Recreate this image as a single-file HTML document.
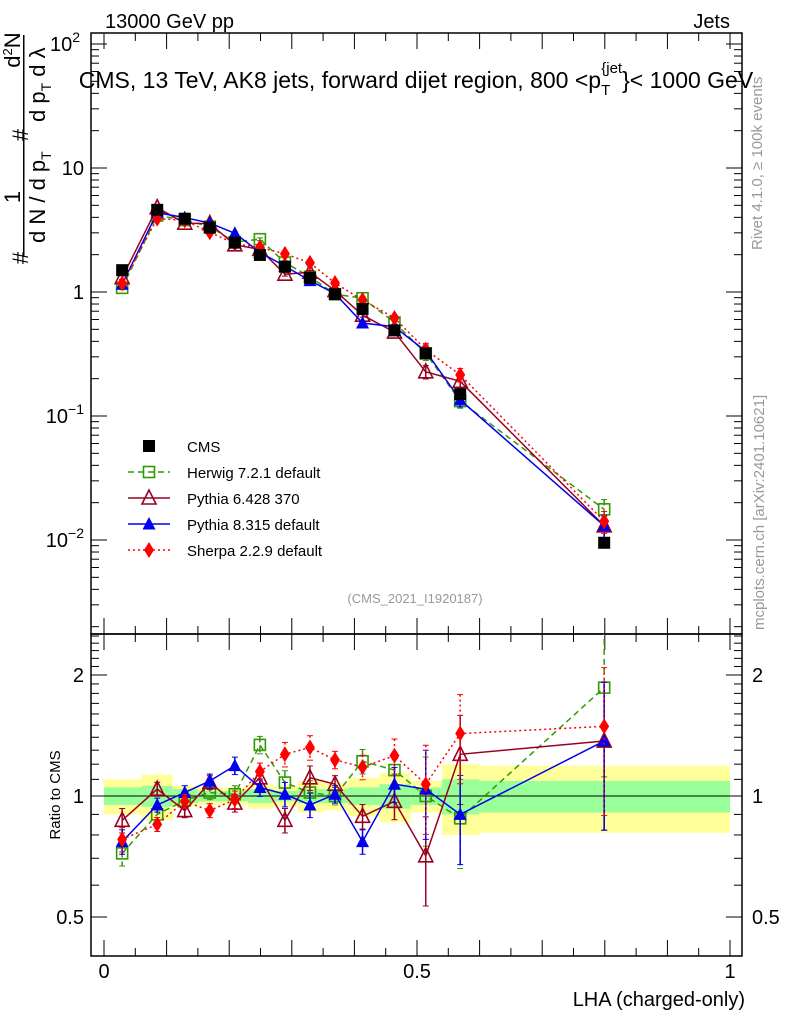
<!DOCTYPE html>
<html><head><meta charset="utf-8"><style>
html,body{margin:0;padding:0;background:#fff}
svg{display:block;font-family:"Liberation Sans",sans-serif}
</style></head><body>
<svg id="c" width="786" height="1024" viewBox="0 0 786 1024" xmlns="http://www.w3.org/2000/svg">
<defs>
<clipPath id="cm"><rect x="91" y="33" width="651" height="601"/></clipPath>
<clipPath id="cr"><rect x="91" y="634" width="651" height="322"/></clipPath>
</defs>
<text x="105" y="28" font-size="20">13000 GeV pp</text>
<text x="730" y="28" font-size="20" text-anchor="end">Jets</text>
<text x="416" y="88" font-size="23" text-anchor="middle">CMS, 13 TeV, AK8 jets, forward dijet region, 800 &lt;p<tspan font-size="15" dy="7">T</tspan><tspan font-size="15" dy="-22" dx="-9">{jet</tspan><tspan dy="15">}&lt; 1000 GeV</tspan></text>
<g font-size="22">
<rect x="23" y="35" width="1.5" height="222" fill="#000"/>
<text transform="translate(45,243) rotate(-90)">d N / d p<tspan font-size="14" dy="6">T</tspan></text>
<text transform="translate(45,122) rotate(-90)">d p<tspan font-size="14" dy="6">T</tspan><tspan dy="-6"> d λ</tspan></text>
<text transform="translate(20,197) rotate(-90)" text-anchor="middle">1</text>
<text transform="translate(20,50) rotate(-90)" text-anchor="middle">d<tspan font-size="13" dy="-8">2</tspan><tspan dy="8">N</tspan></text>
<text transform="translate(28,258) rotate(-90)" text-anchor="middle">#</text>
<text transform="translate(28,135) rotate(-90)" text-anchor="middle">#</text>
</g>
<text transform="translate(762,250) rotate(-90)" font-size="15" fill="#999">Rivet 4.1.0, ≥ 100k events</text>
<text transform="translate(764,630) rotate(-90)" font-size="15" fill="#999">mcplots.cern.ch [arXiv:2401.10621]</text>
<text x="415" y="603" font-size="13" fill="#999" text-anchor="middle">(CMS_2021_I1920187)</text>
<text transform="translate(60,795) rotate(-90)" font-size="15" text-anchor="middle">Ratio to CMS</text>
<text x="745" y="1006" font-size="20" text-anchor="end">LHA (charged-only)</text>
<g id="g"></g>
</svg>
<script>
const xs=[0.029,0.085,0.129,0.169,0.209,0.249,0.289,0.329,0.369,0.413,0.464,0.514,0.569,0.799];
const edges=[0,0.06,0.11,0.15,0.19,0.23,0.27,0.31,0.35,0.39,0.44,0.49,0.54,0.6,1.0];
const cms=[1.5,4.6,3.9,3.3,2.5,1.99,1.6,1.3,0.96,0.73,0.49,0.32,0.15,0.0095];
const bandGreen=[0.05,0.06,0.04,0.03,0.03,0.04,0.03,0.04,0.04,0.05,0.07,0.05,0.10,0.09];
const bandYellow=[0.10,0.13,0.06,0.05,0.05,0.07,0.06,0.09,0.08,0.11,0.14,0.09,0.20,0.19];
const rHerwig=[0.72,0.90,0.975,1.02,1.01,1.34,1.08,1.02,1.0,1.22,1.16,1.0,0.88,1.86];
const rPy6=[0.87,1.04,0.92,1.08,0.96,1.11,0.87,1.11,1.07,0.89,0.97,0.71,1.27,1.37];
const rPy8=[0.77,0.95,1.02,1.09,1.19,1.05,1.01,0.95,1.01,0.77,1.07,1.04,0.90,1.37];
const rSherpa=[0.78,0.85,0.97,0.92,0.98,1.15,1.27,1.32,1.23,1.18,1.26,1.07,1.43,1.49];
const relErr=[0.07,0.04,0.04,0.04,0.05,0.05,0.07,0.07,0.05,0.07,0.10,0.25,0.25,0.4];
const NS='http://www.w3.org/2000/svg',G=document.getElementById('g');
const L=91,R=742,T1=33,B1=634,B2=956;
const X=v=>104+626*v;
const Y=v=>292-124*Math.log10(v);
const YR=v=>796-402*Math.log10(v);
function el(t,a,p){const e=document.createElementNS(NS,t);for(const k in a)e.setAttribute(k,a[k]);(p||G).appendChild(e);return e;}
for(let i=0;i<xs.length;i++){
 let r=el('rect',{x:X(edges[i]),y:YR(1+bandYellow[i]),width:X(edges[i+1])-X(edges[i]),height:YR(1-bandYellow[i])-YR(1+bandYellow[i]),fill:'#ffff99'});
 
 
 let g2=el('rect',{x:X(edges[i]),y:YR(1+bandGreen[i]),width:X(edges[i+1])-X(edges[i]),height:YR(1-bandGreen[i])-YR(1+bandGreen[i]),fill:'#99ff99'});
 
 
}
let one=el('line',{x1:L,x2:R,y1:YR(1),y2:YR(1),stroke:'#000','stroke-width':1});


for(const [t,b,nm] of [[T1,B1,'main-frame'],[B1,B2,'ratio-frame']]){
 let f=el('rect',{x:L,y:t,width:R-L,height:b-t,fill:'none',stroke:'#000','stroke-width':1.5});
 
 
}
for(let v=0;v<=1.0001;v+=0.05){
 const big=Math.abs(v*10-Math.round(v*10))<1e-6;const len=big?16:8;
 for(const [t,b] of [[T1,B1],[B1,B2]]){
  el('line',{x1:X(v),x2:X(v),y1:b,y2:b-len,stroke:'#000'});
  el('line',{x1:X(v),x2:X(v),y1:t,y2:t+len,stroke:'#000'});
 }
}
const xl=[['0',0],['0.5',0.5],['1',1]];
xl.forEach(([s,v])=>{let t=el('text',{x:X(v),y:978,'font-size':20,'text-anchor':'middle'});t.textContent=s;
 
 });
for(let d=-3;d<=2;d++){for(let m=1;m<10;m++){const v=m*Math.pow(10,d);const y=Y(v);if(y<T1||y>B1)continue;const len=m==1?16:8;
 el('line',{x1:L,x2:L+len,y1:y,y2:y,stroke:'#000'});el('line',{x1:R,x2:R-len,y1:y,y2:y,stroke:'#000'});}}
const ylab=[2,1,0,-1,-2];
ylab.forEach(d=>{let t=el('text',{x:84,y:Y(Math.pow(10,d))+7,'font-size':20,'text-anchor':'end'});
 if(d==1){t.textContent='10';}else if(d==0){t.textContent='1';}else{t.textContent='10';const sp=document.createElementNS(NS,'tspan');sp.setAttribute('dy','-9');sp.setAttribute('font-size','14');sp.textContent=d==2?'2':(d==-1?'−1':'−2');t.appendChild(sp);t.setAttribute('x',d==2?80:84);}
 
 });
[0.4,0.5,0.6,0.7,0.8,0.9,1,1.1,1.2,1.3,1.4,1.5,1.6,1.7,1.8,1.9,2,2.1,2.2,2.3,2.4,2.5].forEach(v=>{const y=YR(v);if(y<B1||y>B2)return;const big=(v==0.5||v==1||v==2);const len=big?16:8;
 el('line',{x1:L,x2:L+len,y1:y,y2:y,stroke:'#000'});el('line',{x1:R,x2:R-len,y1:y,y2:y,stroke:'#000'});});
[['2',2],['1',1],['0.5',0.5]].forEach(([s,v])=>{for(const [x,a] of [[84,'end'],[752,'start']]){let t=el('text',{x:x,y:YR(v)+7,'font-size':20,'text-anchor':a});t.textContent=s;
 
 }});
function marker(type,x,y,col,p){
 if(type=='sq'){el('rect',{x:x-6,y:y-6,width:12,height:12,fill:'#000'},p);}
 if(type=='osq'){el('rect',{x:x-5.5,y:y-5.5,width:11,height:11,fill:'none',stroke:col,'stroke-width':1.6},p);}
 if(type=='otri'){el('polygon',{points:`${x},${y-8} ${x-7},${y+6} ${x+7},${y+6}`,fill:'none',stroke:col,'stroke-width':1.6},p);}
 if(type=='tri'){el('polygon',{points:`${x},${y-7} ${x-6.5},${y+5.5} ${x+6.5},${y+5.5}`,fill:col},p);}
 if(type=='dia'){el('polygon',{points:`${x},${y-8} ${x-5},${y} ${x},${y+8} ${x+5},${y}`,fill:col},p);}
}
const series=[
 {n:'herwig',r:rHerwig,c:'#339900',m:'osq',d:'6,4',lab:'Herwig 7.2.1 default'},
 {n:'pythia6',r:rPy6,c:'#990022',m:'otri',d:'',lab:'Pythia 6.428 370'},
 {n:'pythia8',r:rPy8,c:'#0000ee',m:'tri',d:'',lab:'Pythia 8.315 default'},
 {n:'sherpa',r:rSherpa,c:'#ff0000',m:'dia',d:'2,3',lab:'Sherpa 2.2.9 default'}];
series.forEach(s=>{
 for(const panel of ['main','ratio']){
  const g=el('g',{'clip-path':panel=='main'?'url(#cm)':'url(#cr)'});
  
  
  const val=i=>panel=='main'?cms[i]*s.r[i]:s.r[i];
  const yf=panel=='main'?Y:YR;
  const pts=xs.map((x,i)=>X(x)+','+yf(val(i))).join(' ');
  el('polyline',{points:pts,fill:'none',stroke:s.c,'stroke-width':1.5,'stroke-dasharray':s.d},g);
  xs.forEach((x,i)=>{const v=val(i),e=panel=='main'?relErr[i]*0.5:relErr[i];
   const y1=yf(v*(1+e)),y2=yf(v*(1-e));
   el('line',{x1:X(x),x2:X(x),y1:y1,y2:y2,stroke:s.c,'stroke-width':1.5,'stroke-dasharray':s.d},g);
   el('line',{x1:X(x)-3,x2:X(x)+3,y1:y1,y2:y1,stroke:s.c},g);el('line',{x1:X(x)-3,x2:X(x)+3,y1:y2,y2:y2,stroke:s.c},g);
   marker(s.m,X(x),yf(v),s.c,g);});
 }
});
const cg=el('g',{});


xs.forEach((x,i)=>marker('sq',X(x),Y(cms[i]),'#000',cg));
const leg=[{m:'sq',c:'#000',d:'',lab:'CMS'}].concat(series);
leg.forEach((s,i)=>{const y=446+i*26;const lg=el('g',{});
 
 
 if(i>0)el('line',{x1:128,x2:170,y1:y,y2:y,stroke:s.c,'stroke-width':1.5,'stroke-dasharray':s.d},lg);
 marker(s.m,149,y,s.c,lg);
 const t=el('text',{x:187,y:y+6,'font-size':15},lg);t.textContent=s.lab;});
</script>
</body></html>
